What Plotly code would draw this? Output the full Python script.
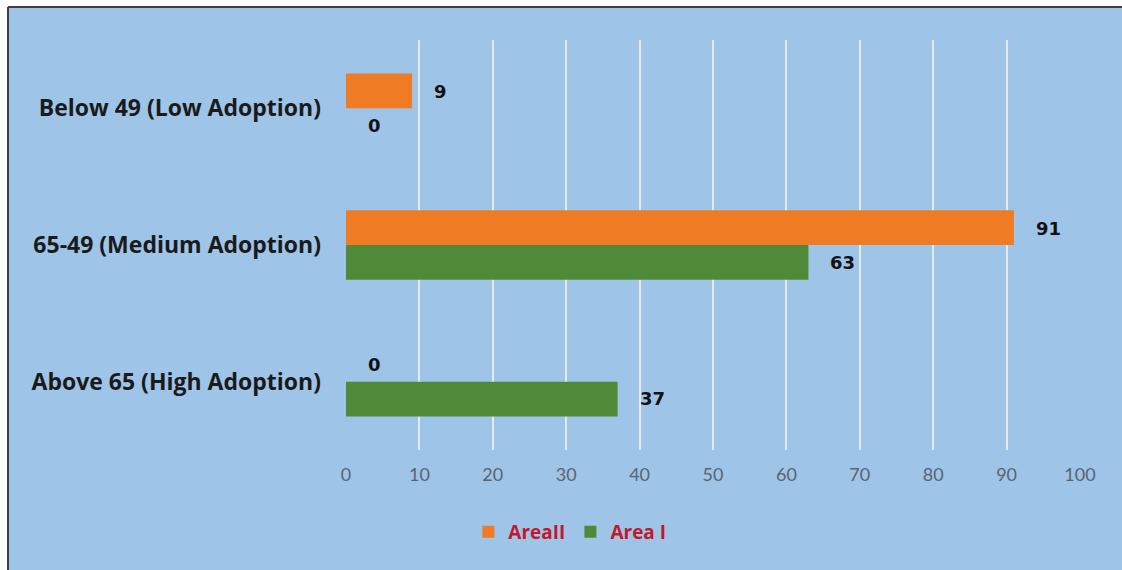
import plotly.graph_objects as go

categories = ["Above 65 (High Adoption)", "65-49 (Medium Adoption)", "Below 49 (Low Adoption)"]
area_i = [37, 63, 0]
area_ii = [0, 91, 9]
x_ticks = [0, 10, 20, 30, 40, 50, 60, 70, 80, 90, 100]

ORANGE = "#ef7b25"
GREEN = "#4f8a38"
BG = "#9ec5e8"

L, T, PW, PH = 346, 40, 734, 410
W, H = 1122, 570

fig = go.Figure()
fig.add_trace(go.Bar(y=categories, x=area_i, orientation="h", name="Area I",
                     marker=dict(color=GREEN, line=dict(width=0))))
fig.add_trace(go.Bar(y=categories, x=area_ii, orientation="h", name="AreaII",
                     marker=dict(color=ORANGE, line=dict(width=0))))

# value labels
annotations = []
for vals, shift in ((area_i, -17), (area_ii, 17)):
    for c, v in zip(categories, vals):
        annotations.append(dict(x=v, y=c, xref="x", yref="y", text=f"<b>{v}</b>",
                                showarrow=False, xanchor="left", xshift=20, yshift=shift,
                                font=dict(family="DejaVu Sans", size=18, color="#111111")))

def px(xp):
    return (xp - L) / PW

def py(yp):
    return (T + PH - yp) / PH

frame_x, frame_y = 8, 7
fig.update_layout(
    width=W, height=H,
    margin=dict(l=L, r=W - L - PW, t=T, b=H - T - PH),
    paper_bgcolor="white",
    plot_bgcolor="rgba(0,0,0,0)",
    barmode="group",
    bargap=0.49,
    bargroupgap=0,
    showlegend=True,
    legend=dict(orientation="h", x=0.305, xanchor="center", y=-0.2, yanchor="middle",
                traceorder="reversed", bgcolor="rgba(0,0,0,0)",
                font=dict(family="Open Sans", size=19, color="#c3172c", weight="bold"),
                itemwidth=30),
    annotations=annotations,
    shapes=[
        dict(type="rect", xref="paper", yref="paper", layer="below",
             x0=px(frame_x), x1=px(W + 20), y0=py(H + 20), y1=py(frame_y),
             fillcolor=BG, line=dict(width=0)),
        dict(type="line", xref="paper", yref="paper", layer="below",
             x0=px(frame_x), x1=px(W + 20), y0=py(frame_y), y1=py(frame_y),
             line=dict(color="#3f4045", width=2)),
        dict(type="line", xref="paper", yref="paper", layer="below",
             x0=px(frame_x), x1=px(frame_x), y0=py(frame_y), y1=py(H + 20),
             line=dict(color="#3f4045", width=2)),
    ],
    xaxis=dict(range=[0, 100], tickvals=x_ticks, showgrid=True, gridcolor="#e6eaee",
               gridwidth=2, zeroline=False, showline=False,
               tickfont=dict(family="Lato", size=18, color="#5b6370"),
               ticklabelstandoff=12),
    yaxis=dict(showgrid=False, zeroline=False, showline=False,
               tickfont=dict(family="Open Sans", size=23, color="#1a1a1a", weight="bold"),
               ticklabelstandoff=24),
)

fig.write_html(
    "out.html",
    config={"displayModeBar": False},
    post_script="document.body.style.margin='0';document.body.style.overflow='hidden';",
)
